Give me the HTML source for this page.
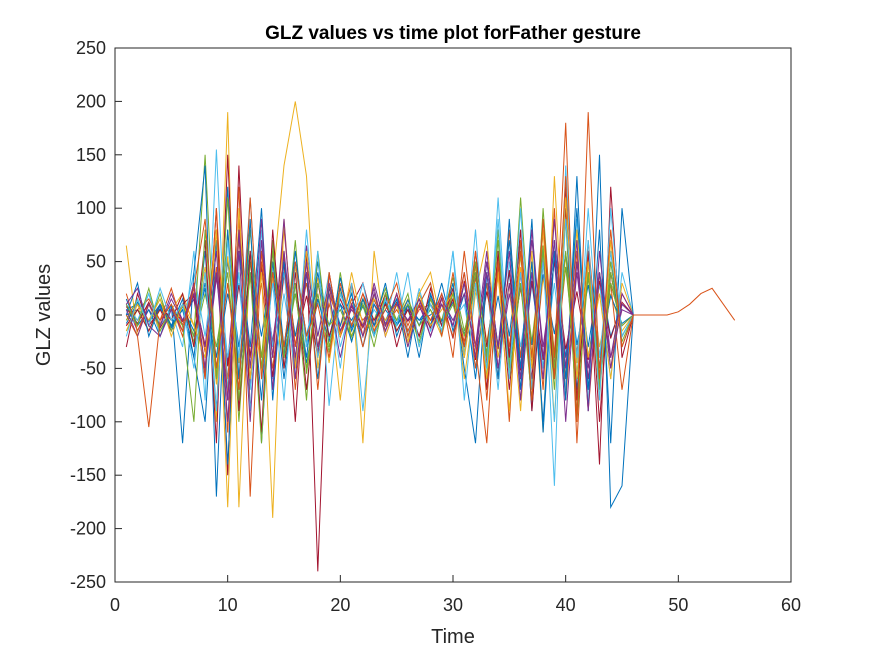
<!DOCTYPE html>
<html><head><meta charset="utf-8"><style>
body{margin:0;background:#fff;}
svg text{font-family:"Liberation Sans",Arial,sans-serif;}
</style></head><body>
<svg id="chart" width="875" height="656" viewBox="0 0 875 656">
<rect x="0" y="0" width="875" height="656" fill="#fff"/>
<rect x="115" y="48" width="676" height="534" fill="#fff"/>
<g id="series"></g>
<rect x="115" y="48" width="676" height="534" fill="none" stroke="#262626" stroke-width="1"/>
<g id="ticks"></g>
<text x="453" y="39" text-anchor="middle" font-size="19" font-weight="bold" fill="#000">GLZ values vs time plot forFather gesture</text>
<text x="453" y="643" text-anchor="middle" font-size="20" fill="#262626">Time</text>
<text x="50" y="315" text-anchor="middle" font-size="20" fill="#262626" transform="rotate(-90 50 315)">GLZ values</text>
</svg>
<script>
const xTicks=[0,10,20,30,40,50,60];
const yTicks=[-250,-200,-150,-100,-50,0,50,100,150,200,250];
const colors=["#0072BD","#D95319","#EDB120","#7E2F8E","#77AC30","#4DBEEE","#A2142F"];
const a1=[0,5,-5,10,-10,5,-20,30,-40,50,-30,60,-50,40,-60,30,-40,50,-20,10,-5,15,-10,5,-10,10,-5,0,10,-20,30,-40,50,-30,40,-60,30,-50,70,-40,50,-30,40,-20,10,0];
const a2=[5,-5,10,-10,5,-15,25,-35,45,-60,70,-40,30,-50,40,-20,30,-40,10,-20,15,-5,10,-10,20,-15,5,10,-5,15,-25,35,-45,55,-35,25,-45,60,-55,45,-35,50,-40,30,-10,0];
const a3=[-5,10,-15,5,-5,20,-10,45,-65,55,-45,35,-55,65,-35,45,-25,35,-45,25,-20,10,-15,20,-5,15,-10,5,-20,25,-35,45,-25,35,-55,45,-65,35,-40,55,-45,60,-30,20,-15,0];
const a4=[10,-15,5,-10,20,-5,15,-55,35,-45,75,-65,45,-25,55,-45,65,-35,25,-15,5,-10,25,-20,10,-5,15,-10,20,-10,40,-30,60,-50,20,-40,70,-30,50,-70,40,-50,30,-40,5,0];
const a5=[-15,5,-5,15,-10,10,-25,20,-30,40,-70,80,-50,60,-40,70,-55,20,-35,40,-25,15,-5,25,-15,5,-25,15,-5,35,-15,25,-35,45,-45,55,-25,65,-35,45,-55,35,-65,50,-25,0];
const a6=[0,-10,20,-20,10,-10,40,-20,60,-40,30,-70,80,-60,20,-50,60,-20,40,-30,10,-20,5,-10,15,-20,25,-15,10,-5,10,-50,30,-70,50,-30,40,-50,30,-70,90,-40,30,-60,40,0];
const a7=[8,-8,12,-12,6,-6,18,-28,38,-48,28,-38,48,-58,38,-28,18,-38,28,-18,8,-12,14,-8,12,-6,8,-12,16,-22,32,-42,22,-32,42,-52,32,-42,52,-32,22,-42,32,-22,12,0];
const a8=[-8,12,-6,6,-12,8,-15,25,-50,20,-30,40,-20,50,-30,20,-45,15,-25,35,-12,8,-18,12,-8,14,-10,18,-6,12,-18,28,-38,18,-48,28,-28,38,-18,58,-28,28,-38,18,-8,0];
const s1=[5,10,-5,8,-10,15,-40,60,-90,120,-60,40,-80,70,-30,50,-20,30,-10,25,-15,10,-20,15,-10,5,-5,10,-15,20,-30,40,-60,50,-20,70,-90,60,-40,90,-70,40,-50,60,-30,0];
const s2=[-10,5,15,-5,10,-20,30,-50,80,-110,90,-60,50,-40,60,-70,40,-30,20,-10,30,-20,10,-15,20,-10,15,-5,10,-20,40,-50,30,-60,80,-40,50,-70,100,-80,60,-90,40,-50,20,0];
const s3=[65,-20,10,-15,5,20,-30,40,-100,190,-180,60,-40,30,140,200,130,-50,20,-80,30,-120,60,-20,10,-30,20,40,-10,30,-60,20,70,-40,30,-90,60,-110,130,-60,80,-40,20,-60,30,0];
const s4=[-30,20,-10,5,-15,10,20,-60,100,-150,140,-90,60,-30,50,-100,60,-240,40,-20,10,30,-10,20,-30,10,-20,15,-10,25,-40,60,-30,50,-70,40,-60,80,-50,120,-80,60,-100,40,-20,0];
const s5=[0,-20,-105,-5,10,-15,25,90,-50,30,-70,110,-60,40,-30,50,-20,10,-40,30,-10,20,-15,5,30,-20,10,-5,20,-40,60,-30,-120,50,-30,60,-80,90,-40,180,-100,190,-60,80,-30,0,0,0,0,3,10,20,25,10,-5];
const s6=[10,-5,20,-10,5,-30,60,-80,155,-70,40,-90,70,-30,40,-60,80,-40,20,-50,30,-90,20,-10,40,-20,10,30,-20,60,-40,80,-60,110,-50,40,-80,60,-160,140,-60,100,-40,60,-20,0];
const s7=[-5,15,-10,20,-15,10,-20,150,-60,80,-100,50,-40,70,-50,30,-80,60,-30,20,-10,15,-20,10,-5,20,-30,15,-10,10,-30,40,-60,80,-50,110,-40,60,-70,90,-100,50,-60,40,-20,0];
const s8=[15,-10,5,-20,10,-120,40,140,-170,80,-60,90,-120,50,-40,60,-30,40,-20,10,-25,15,-10,30,-20,10,-40,20,-10,30,-50,-120,40,-60,90,-70,50,-100,60,-80,130,-90,150,-180,-160,0];
const s9=[-10,5,-15,10,-5,20,-30,70,-120,150,-90,60,-110,80,-50,40,-70,30,-20,15,-10,20,-5,10,-15,5,-20,25,-10,15,-30,50,-70,60,-40,80,-90,50,-60,100,-80,60,-140,120,-40,0];
const s10=[0,30,-20,10,-10,5,-40,-100,70,-140,60,-30,100,-80,50,-20,40,-60,30,-10,20,-30,10,-5,15,-40,20,-10,30,-15,20,-60,40,-30,70,-50,90,-110,60,-60,100,-70,80,-120,100,0];
const s11=[20,-15,10,-5,25,-10,30,-60,100,-80,120,-170,60,-40,80,-30,50,-70,40,-20,10,-30,20,-10,5,-15,10,30,-20,40,-30,60,-80,50,-100,70,-40,90,-60,130,-120,70,-50,30,-70,0];
const s12=[-15,10,-5,15,-20,10,-10,-40,80,-180,100,-60,40,-190,90,-50,60,-30,30,-20,40,-10,15,-5,10,-25,20,-10,5,20,-40,30,-60,40,-90,60,-50,80,-100,110,-60,50,-80,70,-30,0];
const s13=[5,-20,10,-10,15,-5,20,-30,60,-100,80,-50,90,-70,60,-40,50,-20,30,-15,10,-10,20,-15,10,-5,15,-20,10,-10,30,-40,50,-30,60,-80,40,-60,90,-50,70,-90,60,-40,20,0];
const s14=[10,-10,25,-15,5,-10,-100,80,-60,110,-80,40,-120,60,-40,20,-50,30,-10,5,-20,10,-30,20,-5,10,-10,5,-15,20,-20,50,-40,70,-60,30,-80,100,-50,60,-90,40,-70,30,-10,0];
const s15=[-20,15,-10,25,-5,10,-50,40,-90,70,-40,110,-60,30,-80,50,-30,60,-85,20,-10,30,-20,15,-10,40,-30,10,-15,60,-80,30,-50,90,-60,100,-70,50,-100,90,-40,70,-80,100,-20,0];
const s16=[10,25,-10,-20,5,-15,30,-50,40,-80,60,-100,70,-40,90,-60,40,-30,20,-40,10,-20,30,-10,20,-30,10,-20,15,-5,20,-30,40,-50,30,-60,80,-40,70,-100,50,-60,40,-50,10,0];
const seriesList=[a1,a2,a3,a4,a5,a6,a7,a8,s1,s2,s3,s4,s6,s7,s8,s9,s10,s11,s12,s13,s14,s15,s16,s5];
const colorIdx=[0,1,2,3,4,5,6,0,0,1,2,6,5,4,0,6,0,1,2,3,4,5,3,1];
const NS="http://www.w3.org/2000/svg";
function xS(t){return 115+t*676/60;}
function yS(v){return 315-v*534/500;}
const g=document.getElementById('series');
seriesList.forEach((s,i)=>{
  const p=document.createElementNS(NS,'polyline');
  p.setAttribute('points',s.map((v,k)=>xS(k+1).toFixed(1)+','+yS(v).toFixed(1)).join(' '));
  p.setAttribute('fill','none');
  p.setAttribute('stroke',colors[colorIdx[i]]);
  p.setAttribute('stroke-width','1');
  
  
  g.appendChild(p);
});
const tg=document.getElementById('ticks');
xTicks.forEach(t=>{
  const x=xS(t);
  const l=document.createElementNS(NS,'line');
  l.setAttribute('x1',x);l.setAttribute('x2',x);l.setAttribute('y1',582);l.setAttribute('y2',575);
  l.setAttribute('stroke','#262626');
  
  
  tg.appendChild(l);
  const tx=document.createElementNS(NS,'text');
  tx.setAttribute('x',x);tx.setAttribute('y',611);tx.setAttribute('text-anchor','middle');
  tx.setAttribute('font-size','18');tx.setAttribute('fill','#262626');
  tx.textContent=t;
  
  
  tg.appendChild(tx);
});
yTicks.forEach(v=>{
  const y=yS(v);
  const l=document.createElementNS(NS,'line');
  l.setAttribute('x1',115);l.setAttribute('x2',122);l.setAttribute('y1',y);l.setAttribute('y2',y);
  l.setAttribute('stroke','#262626');
  
  
  tg.appendChild(l);
  const tx=document.createElementNS(NS,'text');
  tx.setAttribute('x',106);tx.setAttribute('y',y+6);tx.setAttribute('text-anchor','end');
  tx.setAttribute('font-size','18');tx.setAttribute('fill','#262626');
  tx.textContent=v;
  
  
  tg.appendChild(tx);
});
</script>
</body></html>
